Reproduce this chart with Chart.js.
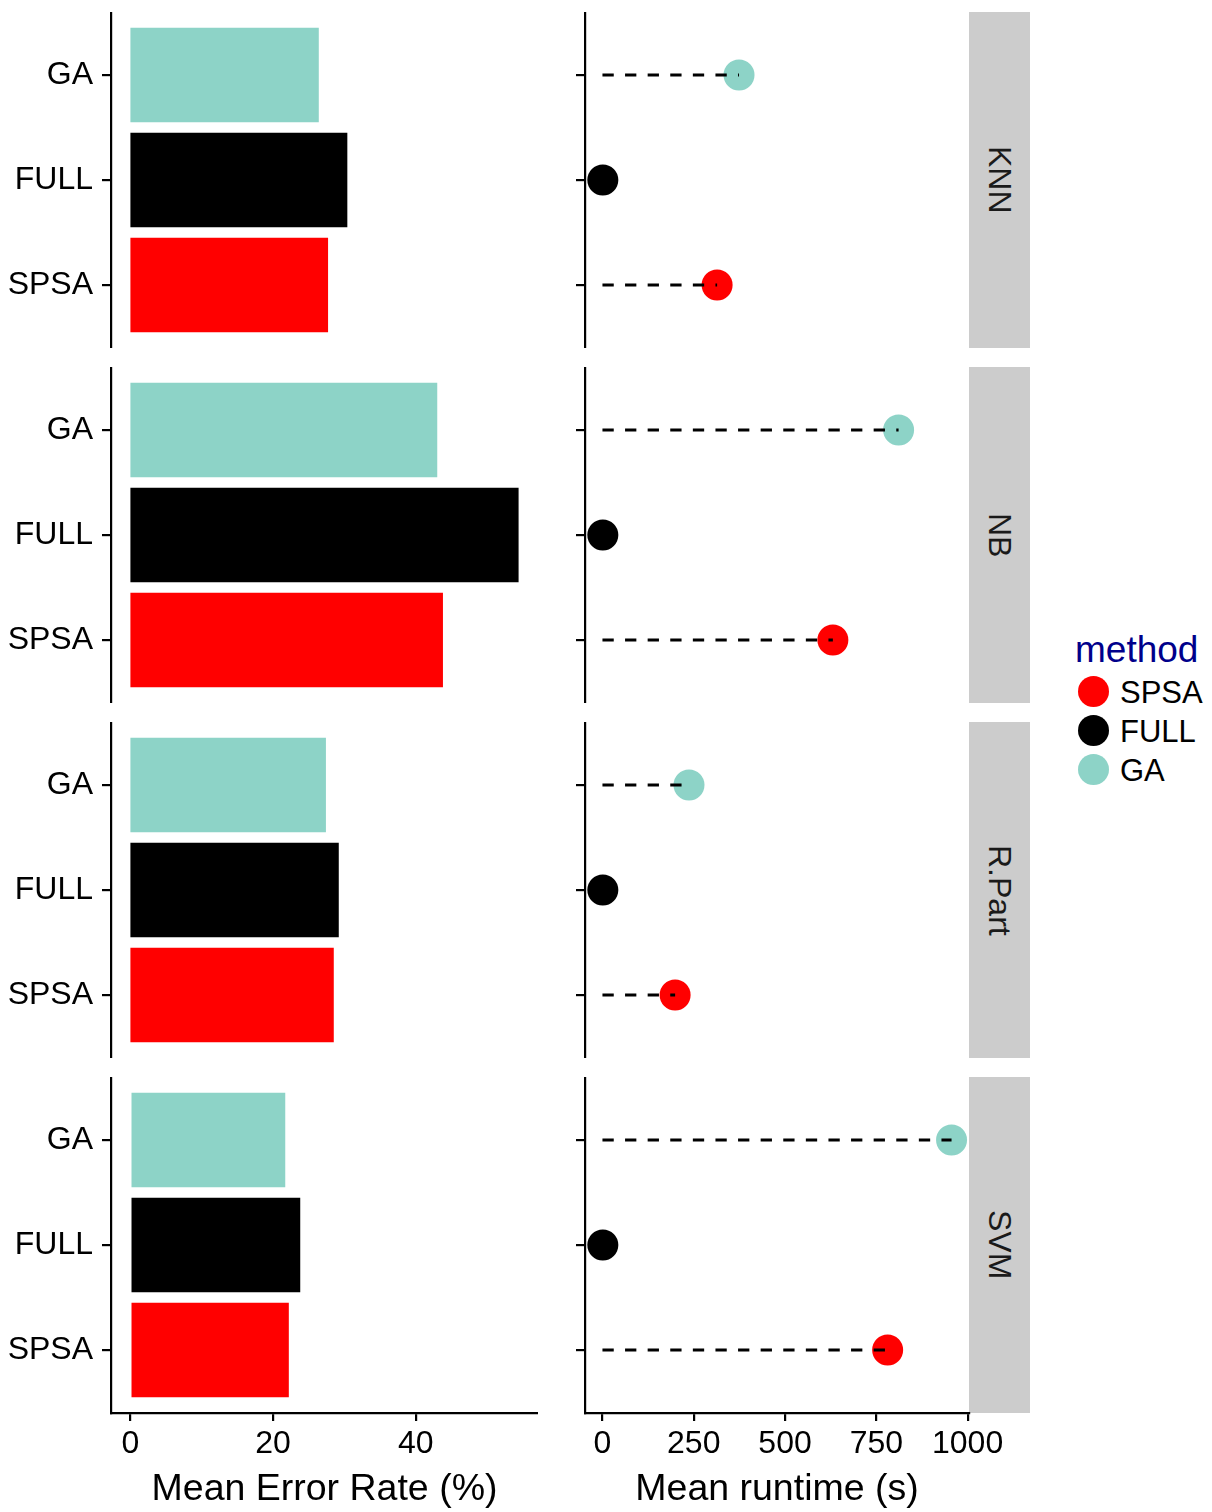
<!DOCTYPE html>
<html>
<head>
<meta charset="utf-8">
<script src="https://cdn.jsdelivr.net/npm/chart.js@4.4.1/dist/chart.umd.min.js"></script>
<style>
  body { margin: 0; background: #fff; }
  #page { position: relative; width: 1212px; height: 1512px; overflow: hidden;
          font-family: 'Liberation Sans', Arial, Helvetica, sans-serif; }
  #page canvas { position: absolute; }
  .strip { position: absolute; left: 969px; width: 61px; background: #CCCCCC;
           display: flex; align-items: center; justify-content: center; }
  .strip span { writing-mode: vertical-rl; font-size: 32px; color: #1A1A1A; }
  .legend-title { position: absolute; left: 1075px; top: 628px; font-size: 37px;
                  line-height: 44px; color: #00008B; }
  .legend-item { position: absolute; left: 1078px; height: 36px; line-height: 36px;
                 font-size: 31px; color: #000; white-space: nowrap; }
  .legend-item i { display: inline-block; width: 31px; height: 31px; border-radius: 50%;
                   vertical-align: middle; margin-right: 11px; position: relative; top: -3px; }
</style>
</head>
<body>
<div id="page"></div>
<script>
// facets (top to bottom) and methods (top to bottom inside each facet)
const models = ['KNN', 'NB', 'R.Part', 'SVM'];
const methods = ['GA', 'FULL', 'SPSA'];
const methodColors = ['#8DD3C7', '#000000', '#FF0000'];
const legendOrder = ['SPSA', 'FULL', 'GA'];

// mean error rate (%) per model
const errorGA   = [26.4, 43.0, 27.4, 21.7];
const errorFULL = [30.4, 54.4, 29.2, 23.8];
const errorSPSA = [27.7, 43.8, 28.5, 22.2];

// mean runtime (s) per model
const runtimeGA   = [374, 811, 237, 956];
const runtimeFULL = [1, 1, 1, 1];
const runtimeSPSA = [314, 631, 199, 781];

const errorTicks = [0, 20, 40];
const runtimeTicks = [0, 250, 500, 750, 1000];

const PANEL_TOP = 12, PANEL_H = 336, PANEL_GAP = 19, AXIS_H = 99;
const PAGE_H = 1512;
const TICK_FONT = 32, TITLE_FONT = 37.5;

Chart.defaults.font.family = "'Liberation Sans', Arial, Helvetica, sans-serif";
Chart.defaults.color = '#000';
Chart.defaults.animation = false;
Chart.defaults.plugins.legend.display = false;
Chart.defaults.plugins.tooltip.enabled = false;

const page = document.getElementById('page');

function xAxis(min, max, ticks, title, show) {
  return {
    type: 'linear', min: min, max: max, display: show,
    afterBuildTicks: s => { s.ticks = ticks.map(v => ({ value: v })); },
    afterFit: s => {
      s.height = show ? AXIS_H : 0;
      s.paddingLeft = 0; s.paddingRight = 0;
    },
    grid: { display: true, drawOnChartArea: false, drawTicks: true, tickLength: 8,
            color: '#000', lineWidth: 2.2 },
    border: { display: true, color: '#000', width: 2.2 },
    ticks: { color: '#000', font: { size: TICK_FONT }, padding: 4, maxRotation: 0,
             autoSkip: false, callback: v => String(v) },
    title: { display: true, text: title, color: '#000', font: { size: TITLE_FONT },
             padding: { top: 0, bottom: 0 } }
  };
}

function yAxis(showLabels, width) {
  return {
    type: 'linear', min: 0.4, max: 3.6, reverse: true, offset: false,
    afterBuildTicks: s => { s.ticks = methods.map((m, i) => ({ value: i + 1 })); },
    afterFit: s => { s.width = width; s.paddingTop = 0; s.paddingBottom = 0; },
    grid: { display: true, drawOnChartArea: false, drawTicks: true, tickLength: 9,
            offset: false, color: '#000', lineWidth: 2.2 },
    border: { display: true, color: '#000', width: 2.2 },
    ticks: { display: showLabels, color: '#000', font: { size: TICK_FONT }, padding: 9,
             autoSkip: false, callback: v => methods[v - 1] }
  };
}

function addCanvas(left, top, w, h) {
  const c = document.createElement('canvas');
  c.width = w; c.height = h;
  c.style.left = left + 'px'; c.style.top = top + 'px';
  c.style.width = w + 'px'; c.style.height = h + 'px';
  page.appendChild(c);
  return c;
}

const errAll = errorGA.concat(errorFULL, errorSPSA);
const rtAll = runtimeGA.concat(runtimeFULL, runtimeSPSA);
const errMax = Math.max(...errAll);
const rtMax = Math.max(...rtAll);

models.forEach((model, r) => {
  const top = PANEL_TOP + r * (PANEL_H + PANEL_GAP);
  const last = r === models.length - 1;
  const h = last ? PAGE_H - top : PANEL_H;
  const errs = [errorGA[r], errorFULL[r], errorSPSA[r]];
  const rts = [runtimeGA[r], runtimeFULL[r], runtimeSPSA[r]];

  // strip label
  const strip = document.createElement('div');
  strip.className = 'strip';
  strip.style.top = top + 'px';
  strip.style.height = PANEL_H + 'px';
  strip.innerHTML = '<span>' + model + '</span>';
  page.appendChild(strip);

  // left: error rate bars
  new Chart(addCanvas(0, top, 538, h), {
    type: 'bar',
    data: {
      datasets: [{
        data: errs.map((v, i) => ({ x: v, y: i + 1 })),
        backgroundColor: methodColors,
        borderWidth: 0,
        categoryPercentage: 0.9,
        barPercentage: 1
      }]
    },
    options: {
      responsive: false,
      indexAxis: 'y',
      layout: { padding: 0, autoPadding: false },
      scales: {
        x: xAxis(-0.05 * errMax, 1.05 * errMax, errorTicks, 'Mean Error Rate (%)', last),
        y: yAxis(true, 111)
      }
    }
  });

  // right: runtime dots with dashed segments from zero
  const segments = rts.map((v, i) => ({
    type: 'scatter',
    showLine: true,
    data: [{ x: 0, y: i + 1 }, { x: v, y: i + 1 }],
    borderColor: '#000',
    borderWidth: 2.8,
    borderDash: [11.3, 11.3],
    pointRadius: 0,
    order: 0
  }));
  new Chart(addCanvas(565, top, 465, h), {
    type: 'scatter',
    data: {
      datasets: segments.concat([{
        data: rts.map((v, i) => ({ x: v, y: i + 1 })),
        backgroundColor: methodColors,
        borderColor: methodColors,
        borderWidth: 0,
        pointRadius: 15.5,
        order: 1
      }])
    },
    options: {
      responsive: false,
      layout: { padding: { right: 61 }, autoPadding: false },
      scales: {
        x: xAxis(-0.05 * rtMax, 1.05 * rtMax, runtimeTicks, 'Mean runtime (s)', last),
        y: yAxis(false, 20)
      }
    }
  });
});

// legend
const lt = document.createElement('div');
lt.className = 'legend-title';
lt.textContent = 'method';
page.appendChild(lt);
legendOrder.forEach((m, k) => {
  const item = document.createElement('div');
  item.className = 'legend-item';
  item.style.top = (693 + k * 39 - 18) + 'px';
  item.innerHTML = '<i style="background:' + methodColors[methods.indexOf(m)] + '"></i>' + m;
  page.appendChild(item);
});
</script>
</body>
</html>
